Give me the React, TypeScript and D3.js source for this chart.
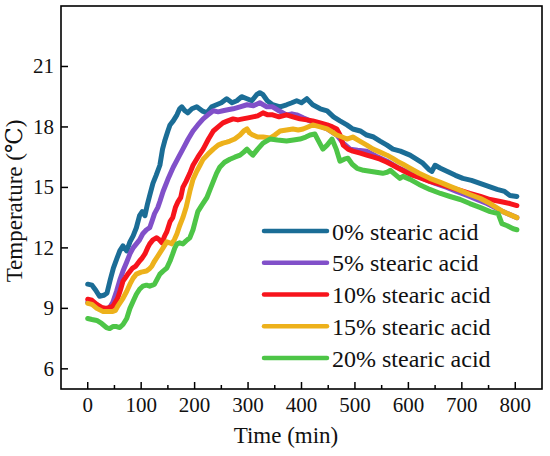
import React, { useRef, useEffect } from 'react';
import * as d3 from 'd3';

type Pt = [number, number];

const seriesNames = ['0% stearic acid', '5% stearic acid', '10% stearic acid', '15% stearic acid', '20% stearic acid'];
const seriesColors = ['#1b6d96', '#8150c9', '#f7141c', '#edb11b', '#4dc547'];

const xTicks = [0, 100, 200, 300, 400, 500, 600, 700, 800];
const xMinorTicks = [50, 150, 250, 350, 450, 550, 650, 750];
const yTicks = [6, 9, 12, 15, 18, 21];

const acid0: Pt[] = [[0,10.2],[8,10.15],[15,9.9],[22,9.6],[30,9.65],[36,9.75],[42,10.4],[48,11.0],[55,11.5],[60,11.85],[66,12.1],[73,11.85],[79,12.3],[85,12.6],[91,13.0],[97,13.6],[102,13.8],[107,13.6],[112,14.2],[117,14.7],[122,15.2],[128,15.6],[135,16.1],[140,16.9],[144,17.3],[150,17.8],[154,18.1],[160,18.3],[167,18.6],[172,18.9],[176,19.0],[182,18.8],[187,18.7],[195,18.9],[204,19.0],[214,18.8],[223,18.7],[232,19.0],[241,19.1],[250,19.2],[260,19.4],[270,19.2],[279,19.3],[288,19.5],[298,19.4],[307,19.3],[316,19.6],[322,19.7],[328,19.6],[336,19.3],[346,19.1],[360,19.0],[372,19.1],[382,19.2],[391,19.3],[400,19.2],[410,19.4],[421,19.1],[435,18.9],[448,18.8],[460,18.5],[472,18.3],[485,18.1],[496,17.9],[510,17.8],[522,17.6],[535,17.5],[547,17.3],[560,17.1],[571,16.9],[585,16.8],[603,16.6],[615,16.4],[627,16.2],[638,15.9],[644,15.8],[650,16.1],[660,15.95],[672,15.8],[688,15.6],[702,15.45],[718,15.35],[734,15.2],[750,15.05],[766,14.9],[780,14.8],[790,14.6],[803,14.55]];

const acid5: Pt[] = [[0,9.3],[10,9.2],[20,9.0],[30,8.95],[40,9.0],[47,9.3],[54,9.85],[60,10.4],[66,10.85],[73,11.3],[79,11.7],[85,12.0],[91,12.2],[97,12.4],[103,12.7],[110,12.9],[116,13.0],[120,13.3],[125,13.7],[131,14.0],[135,14.3],[141,14.8],[150,15.4],[160,16.0],[170,16.5],[178,16.9],[188,17.4],[197,17.8],[206,18.1],[216,18.4],[225,18.6],[235,18.8],[244,18.75],[253,18.8],[262,18.85],[272,18.9],[285,19.0],[298,19.1],[310,19.05],[322,19.2],[335,19.0],[346,19.0],[358,18.8],[372,18.6],[382,18.65],[391,18.6],[403,18.45],[416,18.3],[430,18.1],[448,17.9],[466,17.6],[478,17.2],[491,16.9],[505,16.85],[522,16.8],[540,16.55],[560,16.3],[579,16.0],[600,15.75],[627,15.45],[650,15.2],[672,15.0],[690,14.8],[710,14.6],[728,14.4],[747,14.2],[762,14.0],[777,13.8],[790,13.65],[803,13.5]];

const acid10: Pt[] = [[0,9.45],[8,9.4],[17,9.2],[26,9.05],[35,9.0],[47,9.1],[56,9.5],[61,9.9],[66,10.35],[70,10.5],[75,10.7],[84,11.0],[90,11.1],[97,11.35],[102,11.5],[107,11.7],[112,12.0],[116,12.2],[122,12.4],[129,12.5],[134,12.4],[139,12.25],[144,12.6],[148,12.8],[154,13.3],[159,13.5],[164,14.0],[169,14.3],[174,14.5],[178,15.0],[184,15.3],[191,15.7],[197,16.1],[206,16.5],[216,16.9],[226,17.4],[235,17.8],[244,18.0],[253,18.2],[262,18.3],[272,18.4],[281,18.35],[290,18.4],[300,18.45],[309,18.5],[318,18.55],[328,18.7],[337,18.6],[346,18.6],[358,18.5],[372,18.6],[384,18.5],[397,18.4],[410,18.35],[421,18.3],[435,18.2],[448,18.1],[458,18.0],[466,17.9],[472,17.6],[478,17.1],[487,16.9],[496,16.8],[510,16.7],[522,16.6],[535,16.5],[547,16.4],[560,16.25],[571,16.1],[585,15.9],[603,15.65],[620,15.5],[640,15.3],[660,15.15],[678,15.0],[697,14.85],[715,14.7],[735,14.55],[753,14.4],[772,14.3],[790,14.2],[803,14.1]];

const acid15: Pt[] = [[0,9.25],[8,9.2],[17,9.0],[28,8.85],[38,8.85],[47,8.85],[52,8.9],[56,9.1],[61,9.3],[66,9.5],[73,9.85],[79,10.2],[85,10.5],[91,10.7],[100,10.8],[110,10.85],[115,10.95],[120,11.1],[124,11.3],[129,11.5],[135,11.75],[141,12.0],[148,12.3],[153,12.25],[157,12.2],[162,12.4],[167,12.7],[172,13.1],[178,13.5],[184,14.0],[191,14.8],[197,15.4],[204,15.8],[210,16.1],[216,16.4],[225,16.65],[235,16.9],[244,17.1],[253,17.2],[260,17.25],[266,17.3],[275,17.4],[285,17.6],[292,17.8],[298,17.9],[303,17.7],[309,17.6],[318,17.5],[328,17.5],[341,17.45],[350,17.6],[360,17.8],[372,17.85],[384,17.9],[394,17.85],[403,17.9],[412,18.0],[421,18.1],[435,18.0],[448,17.9],[457,17.75],[466,17.6],[476,17.5],[485,17.4],[496,17.5],[509,17.3],[522,17.1],[534,16.9],[547,16.75],[560,16.6],[570,16.45],[579,16.3],[590,16.15],[603,15.95],[620,15.7],[640,15.45],[660,15.25],[678,15.05],[697,14.85],[715,14.65],[735,14.45],[753,14.2],[765,14.0],[777,13.8],[790,13.65],[803,13.5]];

const acid20: Pt[] = [[0,8.5],[8,8.45],[17,8.4],[26,8.25],[35,8.05],[41,8.0],[47,8.1],[54,8.1],[60,8.05],[66,8.2],[73,8.5],[79,9.0],[85,9.35],[91,9.7],[97,9.95],[103,10.1],[110,10.15],[116,10.1],[121,10.15],[125,10.2],[130,10.45],[135,10.7],[141,10.85],[148,11.0],[154,11.35],[159,11.7],[163,12.0],[167,12.2],[172,12.25],[178,12.2],[184,12.35],[191,12.5],[197,12.9],[201,13.3],[206,13.8],[213,14.1],[223,14.5],[229,14.9],[235,15.3],[241,15.7],[247,16.0],[256,16.25],[266,16.4],[275,16.5],[285,16.6],[292,16.75],[298,16.9],[303,16.75],[309,16.6],[318,16.9],[328,17.2],[341,17.4],[355,17.35],[372,17.3],[385,17.35],[397,17.4],[408,17.5],[416,17.6],[425,17.65],[432,17.3],[440,16.9],[448,17.1],[457,17.4],[465,16.9],[472,16.3],[480,16.4],[487,16.45],[495,16.15],[504,15.95],[516,15.85],[528,15.8],[540,15.75],[552,15.7],[560,15.75],[566,15.85],[575,15.65],[584,15.45],[590,15.55],[603,15.4],[620,15.15],[640,14.9],[660,14.7],[678,14.55],[697,14.4],[715,14.2],[735,14.0],[753,13.8],[768,13.7],[775,13.2],[785,13.1],[796,12.95],[803,12.9]];

const allSeries = [acid0, acid5, acid10, acid15, acid20];

const W = 550;
const H = 456;
const FONT = "'Liberation Serif', 'DejaVu Serif', serif";

export default function App() {
  const svgRef = useRef<SVGSVGElement>(null);

  useEffect(() => {
    if (!svgRef.current) return;
    const svg = d3.select(svgRef.current);
    svg.selectAll('*').remove();

    const left = 61, right = 542, top = 6, bottom = 389;

    const x = d3.scaleLinear().domain([-50, 850]).range([left, right]);
    const y = d3.scaleLinear().domain([5, 24]).range([bottom, top]);

    // series lines
    const line = d3.line<Pt>()
      .x(d => x(d[0]))
      .y(d => y(d[1]));

    allSeries.forEach((s, i) => {
      svg.append('path')
        .datum(s)
        .attr('d', line)
        .attr('fill', 'none')
        .attr('stroke', seriesColors[i])
        .attr('stroke-width', 5)
        .attr('stroke-linejoin', 'round')
        .attr('stroke-linecap', 'round');
    });

    // frame
    svg.append('rect')
      .attr('x', left)
      .attr('y', top)
      .attr('width', right - left)
      .attr('height', bottom - top)
      .attr('fill', 'none')
      .attr('stroke', '#000')
      .attr('stroke-width', 1.6);

    const g = svg.append('g')
      .style('font-family', FONT)
      .attr('fill', '#111');

    // x ticks (inward)
    xTicks.forEach(t => {
      svg.append('line')
        .attr('x1', x(t)).attr('x2', x(t))
        .attr('y1', bottom).attr('y2', bottom - 7)
        .attr('stroke', '#000').attr('stroke-width', 1.5);
      g.append('text')
        .attr('x', x(t))
        .attr('y', 412)
        .attr('text-anchor', 'middle')
        .style('font-size', '21px')
        .text(String(t));
    });
    xMinorTicks.forEach(t => {
      svg.append('line')
        .attr('x1', x(t)).attr('x2', x(t))
        .attr('y1', bottom).attr('y2', bottom - 4)
        .attr('stroke', '#000').attr('stroke-width', 1.5);
    });

    // y ticks (inward)
    yTicks.forEach(t => {
      svg.append('line')
        .attr('x1', left).attr('x2', left + 7)
        .attr('y1', y(t)).attr('y2', y(t))
        .attr('stroke', '#000').attr('stroke-width', 1.5);
      g.append('text')
        .attr('x', 54)
        .attr('y', y(t) + 7)
        .attr('text-anchor', 'end')
        .style('font-size', '21px')
        .text(String(t));
    });

    // axis titles
    g.append('text')
      .attr('x', 286)
      .attr('y', 443)
      .attr('text-anchor', 'middle')
      .style('font-size', '23px')
      .text('Time (min)');

    g.append('text')
      .attr('transform', 'translate(22,201) rotate(-90)')
      .attr('text-anchor', 'middle')
      .style('font-size', '23px')
      .text('Temperature (℃)');

    // legend
    const legend = g.append('g').attr('transform', 'translate(264,231)');
    seriesNames.forEach((name, i) => {
      const ry = i * 31.75;
      legend.append('line')
        .attr('x1', 0).attr('x2', 63)
        .attr('y1', ry).attr('y2', ry)
        .attr('stroke', seriesColors[i])
        .attr('stroke-width', 4.5)
        .attr('stroke-linecap', 'round');
      legend.append('text')
        .attr('x', 68)
        .attr('y', ry + 8.5)
        .style('font-size', '24px')
        .text(name);
    });
  }, []);

  return (
    <svg
      ref={svgRef}
      width={W}
      height={H}
      style={{ position: 'absolute', left: 0, top: 0, background: '#fff' }}
    />
  );
}
